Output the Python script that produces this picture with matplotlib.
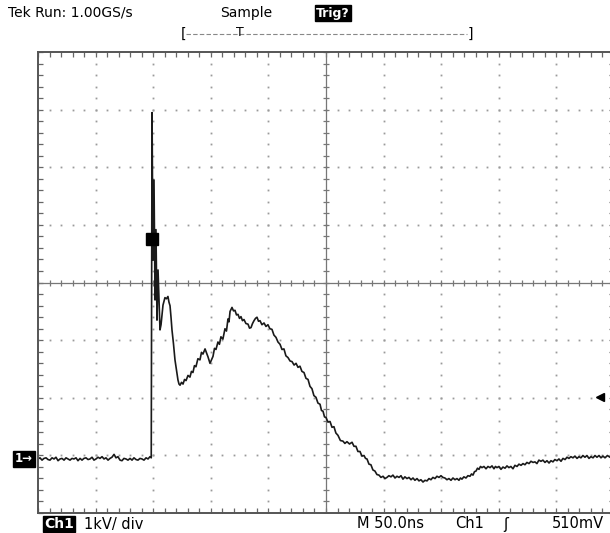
import matplotlib
matplotlib.use("Agg")
import matplotlib.pyplot as plt
import numpy as np

# Ch1 record: time in ns (50 ns/div), voltage in kV (1 kV/div)
base_t = [0, 1.7, 3.5, 5.2, 7, 8.7, 10.4, 12.2, 13.9, 15.6, 17.4, 19.1, 20.8, 22.6, 24.3, 26,
          27.8, 29.5, 31.2, 33, 34.7, 36.5, 38.2, 39.9, 41.7, 43.4, 45.1, 46.9, 48.6, 50.3,
          52.1, 53.8, 55.6, 57.3, 59, 60.8, 62.5, 64.2, 66, 67.7, 69.4, 71.2, 72.9, 74.6,
          76.4, 78.1, 79.9, 81.6, 83.3, 85.1, 86.8, 88.5, 90.3, 92, 93.8, 95.5, 97.2, 98.3]
base_v = [0.00, 0.02, -0.02, 0.01, 0.02, -0.01, -0.02, 0.02, 0.00, 0.03, -0.03, 0.00, 0.01,
          -0.02, 0.02, 0.00, -0.02, 0.01, 0.00, 0.02, -0.03, 0.01, -0.02, 0.01, 0.02, -0.01,
          0.00, 0.03, -0.02, 0.00, 0.03, 0.01, 0.04, 0.00, 0.02, -0.02, 0.01, 0.03, 0.08,
          0.02, 0.04, -0.02, -0.03, 0.01, 0.00, -0.02, 0.01, -0.02, 0.02, -0.01, -0.02, 0.01,
          0.00, -0.02, 0.02, 0.00, 0.04, 0.02]

pulse_t = [99, 99.8, 100.7, 101.6, 102.4, 103.3, 104.2, 105.9, 106.8, 108.5, 110.2, 111.5,
           112.8, 113.7, 114.6, 115.5, 116.3, 117.6, 118.9, 120.2, 121.5, 122.4, 123.3, 124.6,
           125.9, 127.2, 128.5, 130.2, 131.9, 133.2, 134.5, 135.8, 137.1, 138.8, 140.6, 141.9,
           143.2, 145, 146.3, 147.6, 149.3, 150.6, 151.9, 153.2, 154.5, 156.2, 157.5, 158.8,
           160.5, 162.3, 163.6, 164.9, 165.8, 166.7, 168.4, 169.7, 171, 172.3, 173.6, 174.9,
           176.2, 177.5, 178.8, 180.5, 182.3, 183.6, 184.9, 186.2, 187.5, 188.8, 190.1, 191.4,
           192.7, 194.4, 196.2, 197.9, 199.6, 201.3, 203.1, 204.8, 206.6, 208.3, 210.1, 211.8,
           213.5, 215.2, 217, 218.8, 220.5, 222.3, 224, 225.7, 227.4, 229.1, 230.9, 232.6,
           234.4, 236.1, 237.8, 239.5, 241.3, 243, 244.8, 246.1, 247.4, 248.7, 250, 251.7,
           253.5, 255.2, 256.9, 258.6, 260.4, 262.5, 264.7, 266.4, 268.2, 270.4, 272.6, 274.3,
           276, 277.7, 279.5, 281.2, 283, 284.3, 285.6, 287.3, 289, 290.7, 292.5, 294.2]
pulse_v = [6.01, 3.45, 4.84, 2.76, 3.98, 2.41, 3.28, 2.24, 2.33, 2.67, 2.80, 2.78,
           2.82, 2.72, 2.66, 2.45, 2.24, 2.00, 1.72, 1.55, 1.37, 1.30, 1.28, 1.33,
           1.30, 1.38, 1.36, 1.45, 1.42, 1.52, 1.50, 1.62, 1.60, 1.74, 1.72, 1.85,
           1.82, 1.91, 1.84, 1.77, 1.66, 1.72, 1.78, 1.92, 1.90, 2.03, 1.99, 2.12,
           2.08, 2.26, 2.22, 2.43, 2.38, 2.56, 2.63, 2.57, 2.58, 2.50, 2.51, 2.44,
           2.47, 2.40, 2.42, 2.35, 2.34, 2.27, 2.28, 2.35, 2.40, 2.44, 2.46, 2.39,
           2.40, 2.33, 2.36, 2.30, 2.33, 2.26, 2.25, 2.15, 2.11, 2.03, 1.99, 1.90,
           1.91, 1.79, 1.76, 1.70, 1.69, 1.63, 1.66, 1.59, 1.61, 1.52, 1.50, 1.40,
           1.38, 1.26, 1.22, 1.10, 1.07, 0.97, 0.95, 0.84, 0.83, 0.73, 0.72, 0.64,
           0.65, 0.55, 0.56, 0.45, 0.41, 0.32, 0.31, 0.27, 0.30, 0.26, 0.29, 0.22,
           0.22, 0.13, 0.13, 0.05, 0.06, 0.01, 0.00, -0.09, -0.10, -0.19, -0.21, -0.27]

tail_t = [296, 297.7, 299.5, 301.2, 302.9, 304.6, 306.4, 308.1, 309.9, 311.6, 313.4, 315.1,
          316.8, 318.5, 320.3, 322, 323.8, 325.5, 327.2, 329, 330.7, 332.4, 334.2, 335.9,
          337.7, 339.4, 341.1, 342.8, 344.6, 346.3, 348.1, 349.8, 351.5, 353.2, 355, 356.7,
          358.5, 360.2, 362, 363.7, 365.4, 366.7, 368, 369.7, 371.5, 373.2, 375, 376.3,
          377.6, 378.9, 380.2, 381.5, 382.8, 384.1, 385.4, 387.1, 388.9, 390.6, 392.4, 394.1,
          395.8, 397.1, 398.4, 400.1, 401.9, 403.6, 405.4, 407.1, 408.8, 410.5, 412.3, 414,
          415.8, 417.5, 419.3, 421, 422.7, 424.4, 426.2, 427.9, 429.7, 431.4, 433.1, 434.8,
          436.6, 438.3, 440.1, 441.8, 443.6, 445.3, 447, 448.7, 450.5, 452.2, 454, 455.7,
          457.5, 459.2, 460.9, 462.6, 464.4, 466.1, 467.9, 469.6, 471.3, 473, 474.8, 476.5,
          478.3, 480, 481.8, 483.5, 485.2, 487, 488.7, 490.4, 492.2, 494.3, 496.5, 498.2, 500]
tail_v = [-0.28, -0.32, -0.30, -0.34, -0.32, -0.29, -0.31, -0.28, -0.33, -0.30, -0.32, -0.29,
          -0.35, -0.31, -0.34, -0.32, -0.36, -0.33, -0.37, -0.34, -0.38, -0.36, -0.40, -0.37,
          -0.38, -0.34, -0.36, -0.32, -0.34, -0.30, -0.32, -0.29, -0.32, -0.33, -0.36, -0.34,
          -0.37, -0.33, -0.36, -0.34, -0.37, -0.33, -0.35, -0.31, -0.33, -0.29, -0.30, -0.26,
          -0.28, -0.22, -0.21, -0.16, -0.18, -0.13, -0.15, -0.13, -0.17, -0.13, -0.15, -0.12,
          -0.17, -0.13, -0.15, -0.13, -0.18, -0.14, -0.16, -0.12, -0.15, -0.13, -0.17, -0.11,
          -0.13, -0.09, -0.11, -0.08, -0.10, -0.06, -0.08, -0.04, -0.06, -0.05, -0.08, -0.02,
          -0.04, -0.02, -0.06, -0.03, -0.07, -0.03, -0.05, -0.01, -0.03, 0.00, -0.04, 0.01,
          -0.01, 0.03, 0.01, 0.04, 0.02, 0.05, 0.01, 0.04, 0.02, 0.06, 0.03, 0.06,
          0.01, 0.04, 0.02, 0.06, 0.03, 0.06, 0.02, 0.05, 0.02, 0.06, 0.03, 0.06, 0.04]

marker_t, marker_v = 99, 3.82      # square cursor on the trace
trig_level = 1.08                  # trigger level arrow at right edge

time_ns = base_t + pulse_t + tail_t
volt_kv = base_v + pulse_v + tail_v

W, H = 610, 533
fig = plt.figure(figsize=(W / 100, H / 100), dpi=100)
fig.patch.set_facecolor("white")

# graticule: 10 x 8 divisions, left edge at x=38, top at y=52, 57.6 px/div
ax = fig.add_axes([38 / W, 20 / H, 576 / W, 461 / H])
y0 = -0.9375
ax.set_xlim(0, 500)
ax.set_ylim(y0, y0 + 8)

grid_col = "#9a9a9a"
xs_fine = np.arange(0, 500.01, 10)
ys_fine = y0 + np.arange(0, 8.01, 0.2)
for k in range(1, 10):
    if k == 5:
        continue
    ax.plot(np.full(len(ys_fine), k * 50), ys_fine, ls="none", marker="s",
            ms=1.3, color=grid_col, mew=0)
for k in range(1, 8):
    if k == 4:
        continue
    ax.plot(xs_fine, np.full(len(xs_fine), y0 + k), ls="none", marker="s",
            ms=1.3, color=grid_col, mew=0)

# center cross with tick marks
cx, cy = 250, y0 + 4
ax.axvline(cx, color="#777777", lw=0.9)
ax.axhline(cy, color="#777777", lw=0.9)
ax.plot(xs_fine, np.full(len(xs_fine), cy), ls="none", marker="|", ms=5,
        color="#777777", mew=0.9)
ax.plot(np.full(len(ys_fine), cx), ys_fine, ls="none", marker="_", ms=5,
        color="#777777", mew=0.9)

for s in ax.spines.values():
    s.set_color("#555555")
    s.set_linewidth(1.4)
ax.set_xticks(xs_fine)
ax.set_yticks(ys_fine)
ax.tick_params(direction="in", length=3.5, width=0.9, color="#666666",
               top=True, right=True, labelbottom=False, labelleft=False)

# trace
ax.plot(time_ns, volt_kv, color="#1a1a1a", lw=1.2)
ax.plot(marker_t, marker_v, marker="s", ms=9, color="black")

# trigger level arrow
ax.plot(488, trig_level, marker="<", ms=6, color="black", clip_on=False)

# header
fig.text(8 / W, 1 - 13 / H, "Tek Run: 1.00GS/s", fontsize=10, va="center")
fig.text(220 / W, 1 - 13 / H, "Sample", fontsize=10, va="center")
fig.text(316 / W, 1 - 13 / H, "Trig?", fontsize=9, va="center", color="white",
         fontweight="bold",
         bbox=dict(boxstyle="square,pad=0.1", facecolor="black", edgecolor="black"))
fig.text(183 / W, 1 - 34 / H, "[", fontsize=10, va="center", ha="center")
fig.text(470 / W, 1 - 34 / H, "]", fontsize=10, va="center", ha="center")
fig.add_artist(plt.Line2D([186 / W, 467 / W], [1 - 34 / H, 1 - 34 / H],
                          color="#888888", lw=0.8, ls=(0, (4, 2))))
fig.text(240 / W, 1 - 33 / H, "T", fontsize=9, va="center", ha="center")

# channel ground marker
fig.text(15 / W, 1 - 459 / H, "1\u2192", fontsize=8.5, va="center", color="white",
         fontweight="bold",
         bbox=dict(boxstyle="square,pad=0.15", facecolor="black", edgecolor="black"))

# footer
fig.text(44 / W, 1 - 524 / H, "Ch1", fontsize=10, va="center", color="white",
         fontweight="bold",
         bbox=dict(boxstyle="square,pad=0.1", facecolor="black", edgecolor="black"))
fig.text(84 / W, 1 - 524 / H, "1kV/ div", fontsize=10.5, va="center")
fig.text(357 / W, 1 - 524 / H, "M 50.0ns", fontsize=10.5, va="center")
fig.text(455 / W, 1 - 524 / H, "Ch1", fontsize=10.5, va="center")
fig.text(503 / W, 1 - 524 / H, "\u0283", fontsize=10.5, va="center")
fig.text(604 / W, 1 - 524 / H, "510mV", fontsize=10.5, va="center", ha="right")

fig.savefig("out.png", dpi=100, facecolor="white")
